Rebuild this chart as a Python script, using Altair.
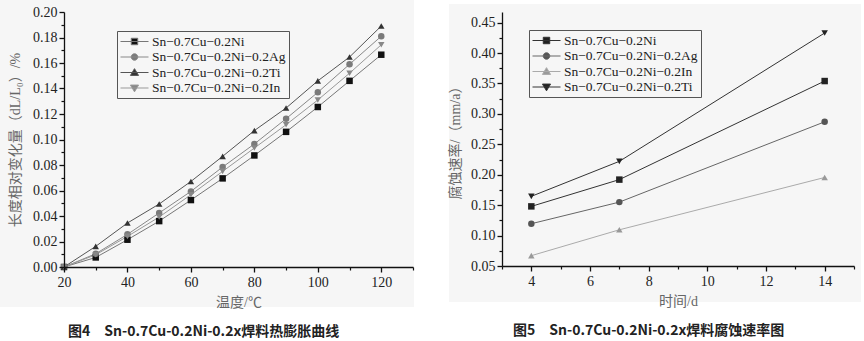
import altair as alt
import pandas as pd

# ---------------- data: Fig.4 thermal expansion ----------------
temps = [20, 30, 40, 50, 60, 70, 80, 90, 100, 110, 120]
exp_ni = [0.000, 0.0075, 0.0214, 0.0360, 0.0525, 0.0695, 0.0875, 0.1060, 0.1255, 0.1460, 0.1665]
exp_ag = [0.000, 0.0104, 0.0256, 0.0424, 0.0593, 0.0784, 0.0965, 0.1163, 0.1370, 0.1590, 0.1810]
exp_ti = [0.000, 0.0162, 0.0345, 0.0494, 0.0671, 0.0868, 0.1070, 0.1247, 0.1460, 0.1647, 0.1890]
exp_in = [0.000, 0.0096, 0.0240, 0.0392, 0.0567, 0.0750, 0.0933, 0.1116, 0.1310, 0.1520, 0.1743]
left_names = ["Sn−0.7Cu−0.2Ni", "Sn−0.7Cu−0.2Ni−0.2Ag", "Sn−0.7Cu−0.2Ni−0.2Ti", "Sn−0.7Cu−0.2Ni−0.2In"]

# ---------------- data: Fig.5 corrosion rate ----------------
days = [4, 7, 14]
cor_ni = [0.148, 0.192, 0.354]
cor_ag = [0.1195, 0.155, 0.287]
cor_in = [0.067, 0.1095, 0.1955]
cor_ti = [0.1645, 0.222, 0.433]
right_names = ["Sn−0.7Cu−0.2Ni", "Sn−0.7Cu−0.2Ni−0.2Ag", "Sn−0.7Cu−0.2Ni−0.2In", "Sn−0.7Cu−0.2Ni−0.2Ti"]

left_df = pd.DataFrame(
    [(n, t, v) for n, vals in zip(left_names, [exp_ni, exp_ag, exp_ti, exp_in]) for t, v in zip(temps, vals)],
    columns=["alloy", "x", "v"],
)
right_df = pd.DataFrame(
    [(n, t, v) for n, vals in zip(right_names, [cor_ni, cor_ag, cor_in, cor_ti]) for t, v in zip(days, vals)],
    columns=["alloy", "x", "v"],
)

SERIF = "Liberation Serif"
TITLE_FONT = "Liberation Serif, Noto Sans CJK SC"
BG = "#f6f6f6"

SQ = "M-1,0H3M0.54,-0.46H1.46V0.46H0.54Z"
CI = "M-1,0H3M1.47,0A0.47,0.47 0 1,1 0.53,0A0.47,0.47 0 1,1 1.47,0Z"
TU = "M-1,0H3M1,-0.55L1.58,0.42H0.42Z"
TD = "M-1,0H3M1,0.55L1.58,-0.42H0.42Z"


def axis_main(values, title, fmt, orient, title_pad, label_pad):
    return alt.Axis(
        values=values, title=title, format=fmt, orient=orient, grid=False, zindex=2,
        domainColor="#111", domainWidth=1.3, tickColor="#111", tickWidth=1.3, tickSize=5,
        labelFont=SERIF, labelFontSize=14, labelColor="#222", labelPadding=label_pad,
        titleFont=TITLE_FONT, titleFontSize=14, titleFontWeight="normal", titleColor="#666",
        titlePadding=title_pad, labelFlush=False, labelOverlap=False,
    )


def axis_minor(values, orient):
    return alt.Axis(
        values=values, title=None, labels=False, domain=False, orient=orient, grid=False, zindex=2,
        tickColor="#111", tickWidth=1.2, tickSize=3,
    )


def panel(df, names, line_cols, pt_cols, shapes, paths, xdom, ydom, xmaj, xmin, ymaj, ymin,
          xtitle, ytitle, w, h, bg_box, leg_xy, caption, cap_dx, ytp):
    xs = alt.Scale(domain=xdom, nice=False, zero=False)
    ys = alt.Scale(domain=ydom, nice=False, zero=False)
    bg = alt.Chart(pd.DataFrame({"k": [0]})).mark_rect(color=BG).encode(
        x=alt.value(bg_box[0]), x2=alt.value(bg_box[1]),
        y=alt.value(bg_box[2]), y2=alt.value(bg_box[3]),
    )
    lines = alt.Chart(df).mark_line(strokeWidth=1).encode(
        x=alt.X("x:Q", scale=xs, axis=axis_main(xmaj, xtitle, "d", "bottom", 6, 3)),
        y=alt.Y("v:Q", scale=ys, axis=axis_main(ymaj, ytitle, ".2f", "left", ytp, 2)),
        color=alt.Color("alloy:N", scale=alt.Scale(domain=names, range=line_cols), legend=None),
    )
    pts = alt.Chart(df).mark_point(filled=True, size=42, opacity=1).encode(
        x=alt.X("x:Q", scale=xs, axis=axis_minor(xmin, "bottom")),
        y=alt.Y("v:Q", scale=ys, axis=axis_minor(ymin, "left")),
        color=alt.Color("alloy:N", scale=alt.Scale(domain=names, range=pt_cols), legend=None),
        shape=alt.Shape("alloy:N", scale=alt.Scale(domain=names, range=shapes), legend=None),
    )
    leg = alt.Legend(
        title=None, orient="none", legendX=leg_xy[0], legendY=leg_xy[1],
        symbolSize=196, symbolStrokeWidth=1, symbolOpacity=1,
        labelOffset=17,
        labelFont=SERIF, labelFontSize=13.5, labelColor="#222", labelLimit=0,
        strokeColor="#555", padding=3, rowPadding=1.5, zindex=3,
    )
    legl = alt.Chart(df).mark_point(filled=True, opacity=0).encode(
        x=alt.X("x:Q", scale=xs, axis=None),
        y=alt.Y("v:Q", scale=ys, axis=None),
        color=alt.Color("alloy:N", scale=alt.Scale(domain=names, range=pt_cols), legend=leg),
        stroke=alt.Stroke("alloy:N", scale=alt.Scale(domain=names, range=line_cols), legend=leg),
        shape=alt.Shape("alloy:N", scale=alt.Scale(domain=names, range=paths), legend=leg),
    )
    return alt.layer(bg, lines, pts, legl).resolve_scale(
        color="independent", stroke="independent", shape="independent"
    ).resolve_axis(x="independent", y="independent").properties(
        width=w, height=h,
        title=alt.TitleParams(
            caption, orient="bottom", anchor="start", frame="group", dx=cap_dx, offset=16,
            font="Noto Sans CJK SC", fontSize=14, fontWeight="bold", color="#222",
        ),
    )


left = panel(
    left_df, left_names,
    ["#777", "#888", "#555", "#999"], ["#111", "#7a7a7a", "#333", "#888"],
    ["square", "circle", "triangle-up", "triangle-down"], [SQ, CI, TU, TD],
    [20, 130], [0, 0.2],
    [20, 40, 60, 80, 100, 120], [30, 50, 70, 90, 110, 130],
    [round(0.02 * i, 2) for i in range(11)], [round(0.01 + 0.02 * i, 2) for i in range(10)],
    "温度/℃", "长度相对变化量（dL/L₀）/%", 349, 255,
    (-64, 350, -12, 295), (53, 19),
    "图4　Sn-0.7Cu-0.2Ni-0.2x焊料热膨胀曲线", 4, 10,
)
right = panel(
    right_df, right_names,
    ["#333", "#666", "#aaa", "#333"], ["#222", "#555", "#999", "#222"],
    ["square", "circle", "triangle-up", "triangle-down"], [SQ, CI, TU, TD],
    [3, 15], [0.05, 0.4675],
    [4, 6, 8, 10, 12, 14], [3, 5, 7, 9, 11, 13, 15],
    [round(0.05 + 0.05 * i, 2) for i in range(9)], [round(0.075 + 0.05 * i, 3) for i in range(8)],
    "时间/d", "腐蚀速率/（mm/a）", 352, 254,
    (-53, 359, -8, 290), (27, 18),
    "图5　Sn-0.7Cu-0.2Ni-0.2x焊料腐蚀速率图", 11, 8,
)

chart = alt.hconcat(left, right, spacing=34).properties(
    padding={"left": 0, "top": 0, "right": 0, "bottom": 0}, background="white"
).configure_view(stroke=None)

chart.save("out.html", embed_options={"renderer": "svg", "actions": False})
